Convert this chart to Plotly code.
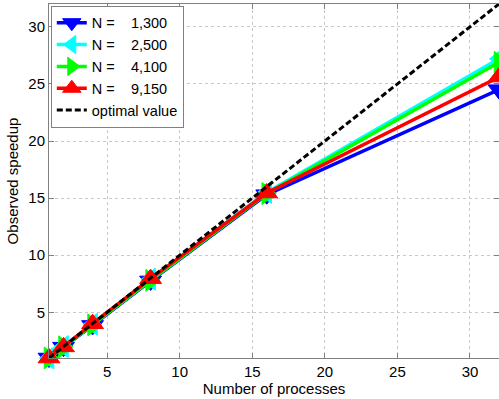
import plotly.graph_objects as go

# Number of processes and the measured speedups for each problem size
processes = [1, 2, 4, 8, 16, 32]
speedup_1300 = [1.0, 1.95, 3.85, 7.75, 15.3, 24.5]
speedup_2500 = [1.0, 2.0, 3.95, 7.9, 15.5, 27.2]
speedup_4100 = [1.0, 1.98, 3.9, 7.8, 15.4, 26.9]
speedup_9150 = [1.0, 1.97, 4.0, 7.95, 15.45, 25.6]
optimal = [1, 32]

series = [
    ("N =\u00a0\u00a0\u00a0 1,300", speedup_1300, "#0000ff", "triangle-down"),
    ("N =\u00a0\u00a0\u00a0 2,500", speedup_2500, "#00ffff", "triangle-left"),
    ("N =\u00a0\u00a0\u00a0 4,100", speedup_4100, "#00ff00", "triangle-right"),
    ("N =\u00a0\u00a0\u00a0 9,150", speedup_9150, "#ff0000", "triangle-up"),
]

fig = go.Figure()
for name, ys, color, symbol in series:
    fig.add_trace(go.Scatter(
        x=processes, y=ys, name=name, mode="lines+markers",
        line=dict(color=color, width=3.5),
        marker=dict(symbol=symbol, size=19, color=color,
                    line=dict(color=color, width=1)),
        cliponaxis=False,
    ))

fig.add_trace(go.Scatter(
    x=optimal, y=optimal, name="optimal value", mode="lines",
    line=dict(color="black", width=3, dash="6px,3px"),
))

axis_common = dict(
    showgrid=True, gridcolor="#c8c8c8", griddash="dot", gridwidth=1,
    showline=True, linecolor="#808080", linewidth=1, mirror="ticks",
    ticks="inside", ticklen=5, tickcolor="#808080",
    zeroline=False,
    tickfont=dict(family="Liberation Sans, Arial, sans-serif", size=15, color="black"),
)

fig.update_layout(
    width=499, height=399,
    margin=dict(l=49, r=0, t=4, b=41),
    paper_bgcolor="white", plot_bgcolor="white",
    font=dict(family="Liberation Sans, Arial, sans-serif", size=15, color="black"),
    xaxis=dict(range=[1, 32], tickvals=[5, 10, 15, 20, 25, 30],
               title=dict(text="Number of processes", standoff=4,
                          font=dict(size=15)),
               **axis_common),
    yaxis=dict(range=[1, 32], tickvals=[5, 10, 15, 20, 25, 30],
               title=dict(text="Observed speedup", standoff=6,
                          font=dict(size=15)),
               **axis_common),
    legend=dict(
        x=0.004, y=0.995, xanchor="left", yanchor="top",
        bgcolor="white", bordercolor="#808080", borderwidth=1,
        font=dict(size=14.5), tracegroupgap=0,
        itemwidth=30,
    ),
    showlegend=True,
)

fig.write_html("out.html")
